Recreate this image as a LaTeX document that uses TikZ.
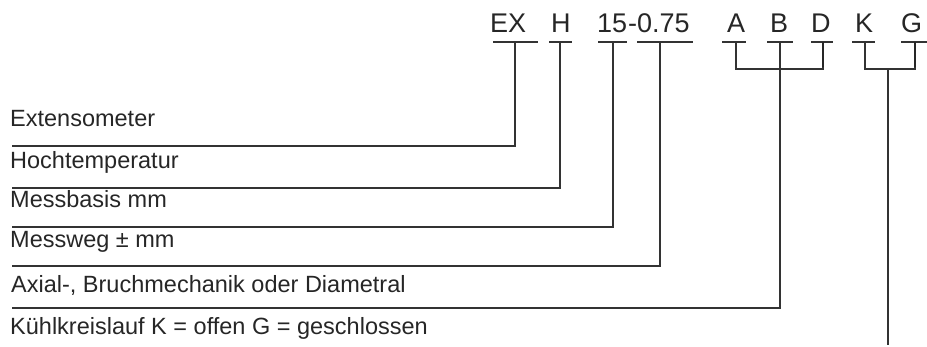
\documentclass[tikz,border=0pt]{standalone}
\usepackage{fontspec}
\setmainfont{Liberation Sans}
\begin{document}
\begin{tikzpicture}[x=1pt,y=-1pt,
  code/.style={anchor=base west,inner sep=0pt,font=\fontsize{27}{30}\selectfont,text=black!85},
  lbl/.style={anchor=base west,inner sep=0pt,font=\fontsize{23.5}{26}\selectfont,text=black!85},
  ln/.style={line width=1.3pt,draw=black!80},
  thk/.style={line width=2.2pt,draw=black!85}]
\useasboundingbox (0,0) rectangle (927,347);
% codes
\node[code] (ex) at (490,33) {EX};
\node[code] (h) at (551,33) {H};
\node[code] (mb) at (597,33) {15};
\node[code] (mw) at (628,33) {-0.75};
\node[code] (a) at (727,33) {A};
\node[code] (b) at (770,33) {B};
\node[code] (d) at (811,33) {D};
\node[code] (k) at (855,33) {K};
\node[code] (g) at (901,33) {G};
% labels
\node[lbl] (l1) at (10,127) {Extensometer};
\node[lbl] (l2) at (10,169) {Hochtemperatur};
\node[lbl] (l3) at (10,208) {Messbasis mm};
\node[lbl] (l4) at (10,248) {Messweg ± mm};
\node[lbl] (l5) at (11,293) {Axial-, Bruchmechanik oder Diametral};
\node[lbl] (l6) at (10,335) {Kühlkreislauf K = offen G = geschlossen};
% bars under codes
\draw[ln] (493,42) -- (538,42);
\draw[ln] (549,42) -- (572,42);
\draw[ln] (598,42) -- (627,42);
\draw[ln] (637,42) -- (693,42);
\draw[ln] (722,42) -- (746,42);
\draw[ln] (767,42) -- (793,42);
\draw[ln] (811,42) -- (833,42);
\draw[ln] (852,42) -- (875,42);
\draw[ln] (901,42) -- (927,42);
% coordinates
\coordinate (exb) at (515,42);
\coordinate (hb) at (560,42);
\coordinate (mbb) at (613,42);
\coordinate (mwb) at (660,42);
\coordinate (ab) at (736,42);
\coordinate (bb) at (780,42);
\coordinate (db) at (823,42);
\coordinate (kb) at (865,42);
\coordinate (gb) at (915,42);
\coordinate (abd) at (780,69);
\coordinate (kg) at (888,69);
\coordinate (e1) at (12,146);
\coordinate (e2) at (12,188);
\coordinate (e3) at (12,227);
\coordinate (e4) at (12,266);
\coordinate (e5) at (12,308);
\coordinate (kgend) at (888,345);
% connectors
\draw[ln] (exb) |- (e1);
\draw[ln] (hb) |- (e2);
\draw[ln] (mbb) |- (e3);
\draw[ln] (mwb) |- (e4);
\draw[ln] (ab) |- (abd);
\draw[ln] (abd) -| (db);
\draw[thk] (db) -- ++(0,25);
\draw[ln] (bb) |- (e5);
\draw[ln] (kb) |- (kg) -| (gb);
\draw[thk] (gb) -- ++(0,25);
\draw[ln] (kg) -- (kgend);
\end{tikzpicture}
\end{document}
